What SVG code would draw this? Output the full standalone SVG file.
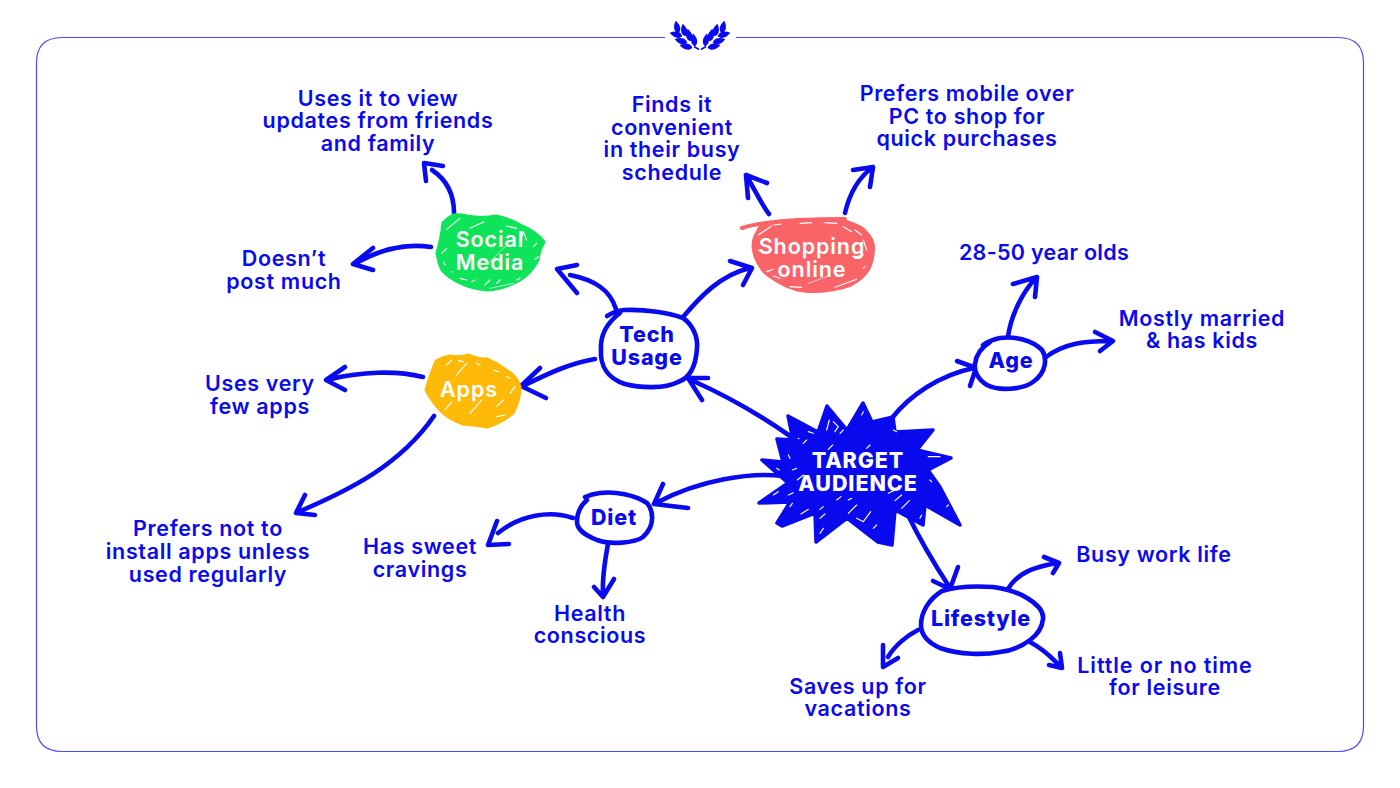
<svg xmlns="http://www.w3.org/2000/svg" width="1400" height="788" viewBox="0 0 1400 788">
<style>
text{font-family:"Inter","Noto Sans","Liberation Sans",sans-serif;text-anchor:middle;font-size:21.5px}
.t{font-weight:600;fill:#0a0aee;letter-spacing:.65px}
.b{font-weight:800;fill:#0a0aee;letter-spacing:.8px}
.w{font-weight:600;fill:#fff;letter-spacing:.9px}
.wb{font-weight:800;fill:#fff;letter-spacing:.9px}
.c{fill:none;stroke:#0a0aee;stroke-width:4.6;stroke-linecap:round;stroke-linejoin:round}
.n{fill:#fff;stroke:#0a0aee;stroke-width:4.6;stroke-linecap:round;stroke-linejoin:round}
.h{fill:none;stroke:#fff;stroke-width:3.4;stroke-linecap:round;stroke-linejoin:round}
.f{fill:none;stroke:#4a4af0;stroke-width:1.2}
.l{fill:#0a0aee}
</style>
<defs>
<path id="leaf" class="l" d="M0,6.5C-4.5,3.5 -3.5,-2 0,-6.5C3.5,-2 4.5,3.5 0,6.5Z"/>
<g id="wheat">
<use href="#leaf" transform="translate(677,27) rotate(-12)"/>
<use href="#leaf" transform="translate(684,30) rotate(-12)"/>
<use href="#leaf" transform="translate(689,35) rotate(-12)"/>
<use href="#leaf" transform="translate(694,40) rotate(-8)"/>
<use href="#leaf" transform="translate(676,34.5) rotate(-75)"/>
<use href="#leaf" transform="translate(681,41) rotate(-75)"/>
<use href="#leaf" transform="translate(686,46.5) rotate(-80)"/>
<path d="M694,46.5L699,49.5" stroke="#0a0aee" stroke-width="1.5" fill="none"/>
</g>
</defs>
<rect width="1400" height="788" fill="#fff"/>
<path class="f" d="M665,37.5H62Q36.5,37.5 36.5,63V726Q36.5,751.5 62,751.5H1338Q1363.5,751.5 1363.5,726V63Q1363.5,37.5 1338,37.5H736"/>
<g id="logo">
<use href="#wheat"/>
<use href="#wheat" transform="translate(1400,0) scale(-1,1)"/>
</g>
<g id="connectors">
<path class="c" d="M454,213C454,195 447,180 432,170M426,181L424,163L443,166"/>
<path class="c" d="M431,247C405,243 380,250 358,262M373,248L353,264L373,270"/>
<path class="c" d="M616,309C610,290 595,280 570,275M577,293L557,269L577,265"/>
<path class="c" d="M683,317C700,297 720,275 750,268M730,261L752,268L743,285"/>
<path class="c" d="M595,359C570,363 545,375 525,385M540,368L521,386L546,398"/>
<path class="c" d="M423,377C395,370 360,372 331,379M345,367L326,380L345,390"/>
<path class="c" d="M434,416C400,465 350,490 298,512M305,495L296,513L315,515"/>
<path class="c" d="M790,436C760,415 725,395 691,380M702,400L688,378L708,378"/>
<path class="c" d="M892,418C910,395 940,375 974,368M957,361L976,368L970,386"/>
<path class="c" d="M1008,337C1010,320 1020,295 1035,279M1013,284L1037,277L1035,297"/>
<path class="c" d="M1046,357C1065,343 1085,341 1110,341M1095,332L1113,341L1100,351"/>
<path class="c" d="M783,476C750,472 700,480 658,502M663,484L654,504L688,508"/>
<path class="c" d="M573,518C550,510 520,515 498,533M497,521L488,545L509,544"/>
<path class="c" d="M608,544C605,560 602,578 603,595M594,587L603,597L614,579"/>
<path class="c" d="M908,515C920,540 935,565 950,588M933,581L950,589L958,567"/>
<path class="c" d="M1008,589C1018,572 1035,567 1057,563M1044,557L1059,563L1053,573"/>
<path class="c" d="M1030,642C1045,650 1052,658 1060,666M1049,665L1062,668L1060,653"/>
<path class="c" d="M918,630C908,635 895,645 888,657M883,645L883,667L898,658"/>
<path class="c" d="M769,214C762,205 755,190 746,175M748,198L746,175L767,183"/>
<path class="c" d="M845,213C848,200 855,180 873,167M853,170L873,167L870,187"/>
</g>
<g id="target">
<path fill="#0a0aee" stroke="#0a0aee" stroke-width="3.5" stroke-linejoin="round" d="M788,416L818,432L827,406L847,430L863,403L872,422L893,417L895,432L933,430L917,450L951,458L928,470L940,487L960,525L925,505L923,525L895,510L892,545L878,542L847,518L816,542L815,513L782,526L777,523L790,502L759,503L788,483L762,460L783,462L777,439L793,440Z"/>
<g transform="translate(740,390) scale(.3333)">
<path class="h" d="M260,120L268,90M280,95L295,110L285,125M300,130L310,120M175,145L177,146M205,125L220,130M190,160L200,150M265,178L278,165M370,65L365,75M145,195L150,205M110,235L118,240M157,240L170,235M172,270L190,255M100,315L115,305M145,315L160,308M150,350L157,340M183,372L205,358M240,385L255,372M240,430L250,415M240,358L250,350M290,330L303,320M325,330L335,325M325,370L350,345M350,385L370,395L392,365M400,415L410,405M445,310L465,300M465,332L485,315M485,355L508,332M540,385L545,375M565,200L600,200M570,270L575,275M620,350L625,345M460,120L470,125M380,175L390,165"/>
</g>
<text class="wb" x="858" y="468">TARGET</text>
<text class="wb" x="858" y="491">AUDIENCE</text>
</g>
<g id="tech">
<path class="n" d="M607,316Q615,311 624,310C645,309 670,313 683,318C693,325 698,337 697,348C696,365 690,378 678,382C665,389 640,388 625,384C607,378 600,365 601,350C600,335 608,322 620,313"/>
<text class="b" x="647" y="342">Tech</text>
<text class="b" x="647" y="365">Usage</text>
</g>
<g id="age">
<path class="n" d="M983,345Q990,340 1000,338C1015,336 1032,340 1042,350C1047,358 1047,372 1033,382C1022,390 998,391 987,385C977,379 974,370 975,364C976,355 982,347 990,342"/>
<text class="b" x="1011" y="368">Age</text>
</g>
<g id="diet">
<path class="n" d="M585,497Q592,494 600,493C615,491 635,495 647,503C653,510 656,525 643,537C635,543 610,545 597,540C585,535 577,530 577,522C577,512 580,506 587,500"/>
<text class="b" x="614" y="525">Diet</text>
</g>
<g id="lifestyle">
<path class="n" d="M942,591C958,586 978,586 993,587C1008,589 1019,593 1027,598C1037,604 1044,611 1043,619C1042,629 1037,635 1030,640C1021,647 1010,651 1000,652C985,655 960,655 940,648C929,643 921,636 921,625C921,612 929,599 942,591Z"/>
<text class="b" x="981" y="626">Lifestyle</text>
</g>
<g id="social">
<path fill="#0fe35a" stroke="#0fe35a" stroke-width="3" stroke-linejoin="round" d="M453,215Q460,214 467,216Q482,219 496,216Q510,219 522,226Q535,231 544,242Q539,250 538,260Q532,272 520,280Q504,289 487,290Q472,289 460,283Q449,278 442,270Q438,262 437,253Q441,240 443,223Q447,218 453,215Z"/>
<g transform="translate(410,200) scale(.3333)">
<path class="h" d="M110,88L150,55M180,85L222,65M290,78L320,85M330,125L340,95L350,120M370,140L380,130M385,170L375,178M95,160L110,145M100,185L105,195M125,215L127,216M150,235L170,240M185,245L195,240M225,255L240,240M260,250L270,240M320,240L330,235"/>
<path class="h" style="stroke-width:2" d="M240,265L310,250M235,190L290,135"/>
</g>
<text class="w" x="490" y="247">Social</text>
<text class="w" x="490" y="270">Media</text>
</g>
<g id="apps">
<path fill="#ffb908" stroke="#ffb908" stroke-width="3" stroke-linejoin="round" d="M436,361Q443,357 450,356Q460,358 469,355Q478,359 487,359Q501,365 513,375Q518,380 520,387Q520,400 513,413Q501,423 487,427Q475,425 463,424Q452,420 443,413Q432,402 426,390Q430,375 436,361Z"/>
<g transform="translate(410,200) scale(.3333)">
<path class="h" d="M110,495L125,480M145,482L160,485M140,525L170,490M200,490L210,495M250,510L265,515M300,580L315,560M290,530L300,535M105,630L125,605M180,640L215,600M260,620L280,600M260,650L285,645"/>
</g>
<text class="w" x="469" y="397">Apps</text>
</g>
<g id="shopping">
<path fill="#f96469" d="M758,227L763,223C790,220 820,218 840,219C850,220 858,224 863,227C870,233 875,240 875,247C875,257 873,264 870,270C865,278 858,283 850,287C838,291 825,293 813,293C802,293 795,291 787,288C777,283 770,279 763,273C757,265 753,258 752,250C751,245 752,241 753,237Z"/>
<path d="M742,228C760,222 800,219 845,219" fill="none" stroke="#f96469" stroke-width="4" stroke-linecap="round"/>
<g transform="translate(730,200) scale(.3333)">
<path class="h" d="M85,105L125,78M130,75L155,72M210,70L245,68M285,68L320,70M340,80L365,95M375,90L395,105M400,120L410,150M85,150L95,155M380,170L400,165M110,215L130,208M130,228L150,235M180,260L215,262M315,262L380,238M400,205L405,200"/>
<path class="h" style="stroke-width:2" d="M235,250L295,228"/>
</g>
<text class="w" x="812" y="254">Shopping</text>
<text class="w" x="812" y="277">online</text>
</g>
<g id="labels">
<text class="t" x="378" y="106">Uses it to view</text>
<text class="t" x="378" y="128">updates from friends</text>
<text class="t" x="378" y="151">and family</text>
<text class="t" x="284" y="266">Doesn’t</text>
<text class="t" x="284" y="289">post much</text>
<text class="t" x="672" y="112">Finds it</text>
<text class="t" x="672" y="135">convenient</text>
<text class="t" x="672" y="157">in their busy</text>
<text class="t" x="672" y="180">schedule</text>
<text class="t" x="967" y="101">Prefers mobile over</text>
<text class="t" x="967" y="124">PC to shop for</text>
<text class="t" x="967" y="146">quick purchases</text>
<text class="t" x="1044" y="260" style="letter-spacing:.3px">28-50 year olds</text>
<text class="t" x="1202" y="326">Mostly married</text>
<text class="t" x="1202" y="348">&amp; has kids</text>
<text class="t" x="260" y="391">Uses very</text>
<text class="t" x="260" y="414">few apps</text>
<text class="t" x="208" y="536">Prefers not to</text>
<text class="t" x="208" y="559">install apps unless</text>
<text class="t" x="208" y="582">used regularly</text>
<text class="t" x="420" y="554">Has sweet</text>
<text class="t" x="420" y="577">cravings</text>
<text class="t" x="590" y="621">Health</text>
<text class="t" x="590" y="643">conscious</text>
<text class="t" x="1154" y="562">Busy work life</text>
<text class="t" x="1165" y="673" style="letter-spacing:.9px">Little or no time</text>
<text class="t" x="1165" y="695">for leisure</text>
<text class="t" x="858" y="694">Saves up for</text>
<text class="t" x="858" y="716">vacations</text>
</g>
</svg>
